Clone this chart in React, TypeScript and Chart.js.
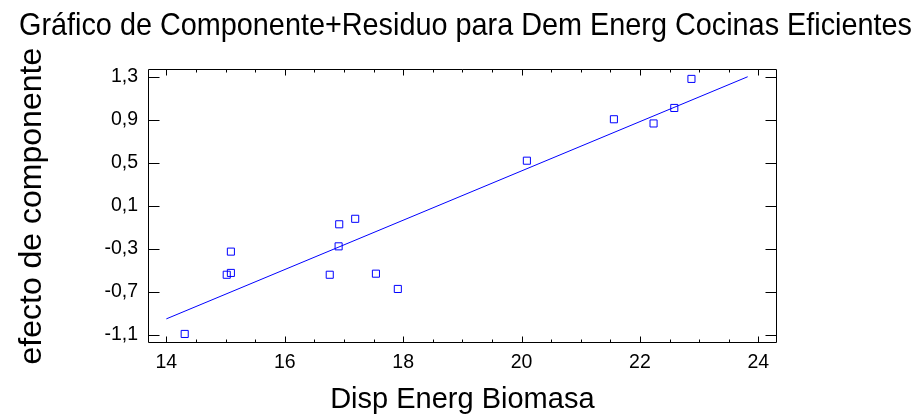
import React, { useEffect, useRef } from "react";
import { Chart, registerables } from "chart.js";

Chart.register(...registerables);

const titleText = "Gráfico de Componente+Residuo para Dem Energ Cocinas Eficientes";
const xAxisTitle = "Disp Energ Biomasa";
const yAxisTitle = "efecto de componente";

const xValues = [14.31, 15.02, 15.09, 15.09, 16.76, 16.91, 16.92, 17.19, 17.54, 17.91, 20.09, 21.56, 22.23, 22.58, 22.87];
const yValues = [-1.09, -0.54, -0.523, -0.325, -0.54, -0.276, -0.071, -0.02, -0.53, -0.672, 0.52, 0.905, 0.866, 1.01, 1.28];

const fitX = [14.0, 23.82];
const fitY = [-0.95, 1.3];

const xMajorTicks = [14, 16, 18, 20, 22, 24];
const xMinorTicks = [14.5, 15, 15.5, 16.5, 17, 17.5, 18.5, 19, 19.5, 20.5, 21, 21.5, 22.5, 23, 23.5];
const yMajorTicks = [-1.1, -0.7, -0.3, 0.1, 0.5, 0.9, 1.3];

const X_MIN = 13.69;
const X_MAX = 24.31;
const Y_MIN = -1.177;
const Y_MAX = 1.372;

const FONT = "'Liberation Sans', Arial, sans-serif";
const BLUE = "rgb(0,0,255)";

const framePlugin = {
  id: "frameTicks",
  afterDraw(chart: any) {
    const { ctx, chartArea } = chart;
    const { left, right, top, bottom } = chartArea;
    const xs = chart.scales.x;
    const ys = chart.scales.y;
    ctx.save();
    ctx.strokeStyle = "#000";
    ctx.lineWidth = 1;
    ctx.beginPath();
    ctx.rect(Math.round(left) + 0.5, Math.round(top) + 0.5, Math.round(right) - Math.round(left) - 1, Math.round(bottom) - Math.round(top) - 1);
    ctx.stroke();
    ctx.beginPath();
    const b = Math.round(bottom) - 0.5;
    const t = Math.round(top) + 0.5;
    const l = Math.round(left) + 0.5;
    const r = Math.round(right) - 0.5;
    xMajorTicks.forEach((v) => {
      const px = Math.round(xs.getPixelForValue(v)) + 0.5;
      ctx.moveTo(px, b);
      ctx.lineTo(px, b - 6);
      ctx.moveTo(px, t);
      ctx.lineTo(px, t + 6);
    });
    xMinorTicks.forEach((v) => {
      const px = Math.round(xs.getPixelForValue(v)) + 0.5;
      ctx.moveTo(px, b);
      ctx.lineTo(px, b - 3);
      ctx.moveTo(px, t);
      ctx.lineTo(px, t + 3);
    });
    yMajorTicks.forEach((v) => {
      const py = Math.round(ys.getPixelForValue(v)) + 0.5;
      ctx.moveTo(l, py);
      ctx.lineTo(l + 11, py);
      ctx.moveTo(r, py);
      ctx.lineTo(r - 11, py);
    });
    ctx.stroke();
    ctx.restore();
  },
};

export default function App() {
  const canvasRef = useRef<HTMLCanvasElement | null>(null);

  useEffect(() => {
    if (!canvasRef.current) return;
    Chart.defaults.font.family = FONT;
    const points = xValues.map((x, i) => ({ x, y: yValues[i] }));
    const fit = fitX.map((x, i) => ({ x, y: fitY[i] }));
    const chart = new Chart(canvasRef.current, {
      type: "scatter",
      data: {
        datasets: [
          {
            data: fit,
            showLine: true,
            borderColor: BLUE,
            borderWidth: 1,
            pointRadius: 0,
            fill: false,
          } as any,
          {
            data: points,
            pointStyle: "rect",
            pointRadius: 5,
            pointBorderWidth: 1,
            pointBorderColor: BLUE,
            pointBackgroundColor: "rgba(0,0,0,0)",
            showLine: false,
          } as any,
        ],
      },
      options: {
        responsive: false,
        animation: false,
        layout: { padding: { left: 19, right: 7, top: 0, bottom: 0 } },
        plugins: {
          legend: { display: false },
          tooltip: { enabled: false },
          title: {
            display: true,
            text: titleText,
            align: "start",
            color: "#000",
            font: { family: FONT, size: 31.5, weight: "normal", lineHeight: 1.2 },
            padding: { top: 7.2, bottom: 24 },
          },
        },
        scales: {
          x: {
            type: "linear",
            position: "bottom",
            min: X_MIN,
            max: X_MAX,
            grid: { display: false, drawTicks: false },
            border: { display: false },
            afterBuildTicks: (s: any) => {
              s.ticks = xMajorTicks.map((v) => ({ value: v }));
            },
            afterFit: (s: any) => {
              s.height = 73.7;
            },
            ticks: {
              color: "#000",
              padding: 8,
              maxRotation: 0,
              autoSkip: false,
              font: { family: FONT, size: 19.5 },
              callback: (v: any) => String(v),
            },
            title: {
              display: true,
              text: xAxisTitle,
              color: "#000",
              font: { family: FONT, size: 29, lineHeight: 1.2 },
              padding: 0,
            },
          },
          y: {
            type: "linear",
            position: "left",
            min: Y_MIN,
            max: Y_MAX,
            grid: { display: false, drawTicks: false },
            border: { display: false },
            afterBuildTicks: (s: any) => {
              s.ticks = yMajorTicks.map((v) => ({ value: v }));
            },
            afterFit: (s: any) => {
              s.width = 129;
            },
            ticks: {
              color: "#000",
              padding: 10,
              autoSkip: false,
              font: { family: FONT, size: 19.5 },
              callback: (v: any) => Number(v).toFixed(1).replace(".", ","),
            },
            title: {
              display: true,
              text: yAxisTitle,
              color: "#000",
              font: { family: FONT, size: 32, lineHeight: 0.85 },
              padding: 0,
            },
          },
          yR: {
            type: "linear",
            position: "right",
            min: 0,
            max: 1,
            grid: { display: false, drawTicks: false },
            border: { display: false },
            ticks: { display: false },
            afterFit: (s: any) => {
              s.width = 135.3;
            },
          },
        },
      },
      plugins: [framePlugin],
    });
    return () => chart.destroy();
  }, []);

  return (
    <div style={{ position: "absolute", left: 0, top: 0, width: 919, height: 417, background: "#fff" }}>
      <canvas ref={canvasRef} width={919} height={417} style={{ display: "block" }} />
    </div>
  );
}
